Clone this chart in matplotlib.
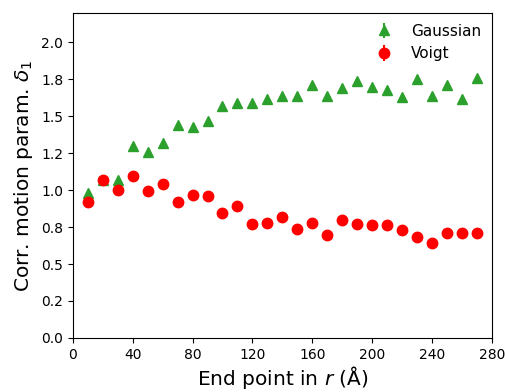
import numpy as np
import matplotlib
matplotlib.use("Agg")
import matplotlib.pyplot as plt
from matplotlib.ticker import FormatStrFormatter

# end points (Angstrom)
end_points = [10, 20, 30, 40, 50, 60, 70, 80, 90, 100, 110, 120, 130, 140,
              150, 160, 170, 180, 190, 200, 210, 220, 230, 240, 250, 260, 270]

gaussian = [0.98, 1.07, 1.07, 1.30, 1.26, 1.32, 1.44, 1.43, 1.47, 1.57, 1.59, 1.59,
            1.615, 1.635, 1.635, 1.71, 1.64, 1.69, 1.74, 1.70, 1.68, 1.63, 1.75,
            1.64, 1.71, 1.62, 1.76]

voigt = [0.92, 1.07, 1.00, 1.095, 0.995, 1.04, 0.92, 0.965, 0.96, 0.845, 0.89, 0.77,
         0.78, 0.82, 0.74, 0.78, 0.70, 0.80, 0.77, 0.765, 0.765, 0.73, 0.68,
         0.645, 0.71, 0.71, 0.71]

gauss_err = [0.01] * len(end_points)
voigt_err = [0.01] * len(end_points)

fig = plt.figure(figsize=(5.06, 3.92), dpi=100)
ax = fig.add_axes([0.144, 0.138, 0.828, 0.829])

ax.errorbar(end_points, gaussian, yerr=gauss_err, fmt='^', color='#2ca02c',
            markersize=7, label='Gaussian')
ax.errorbar(end_points, voigt, yerr=voigt_err, fmt='o', color='red',
            markersize=7.5, label='Voigt')

ax.set_xlim(0, 280)
ax.set_ylim(0, 2.2)
ax.set_xticks(np.arange(0, 281, 40))
ax.set_yticks(np.arange(0, 2.01, 0.25))
ax.yaxis.set_major_formatter(FormatStrFormatter('%.1f'))
ax.tick_params(labelsize=10)

ax.set_xlabel(r'End point in $r$ (Å)', fontsize=14.5, labelpad=2)
ax.set_ylabel(r'Corr. motion param. $\delta_1$', fontsize=14.5)

ax.legend(loc='upper right', frameon=False, fontsize=11, borderaxespad=0.3)

fig.savefig('out.png', dpi=100)
